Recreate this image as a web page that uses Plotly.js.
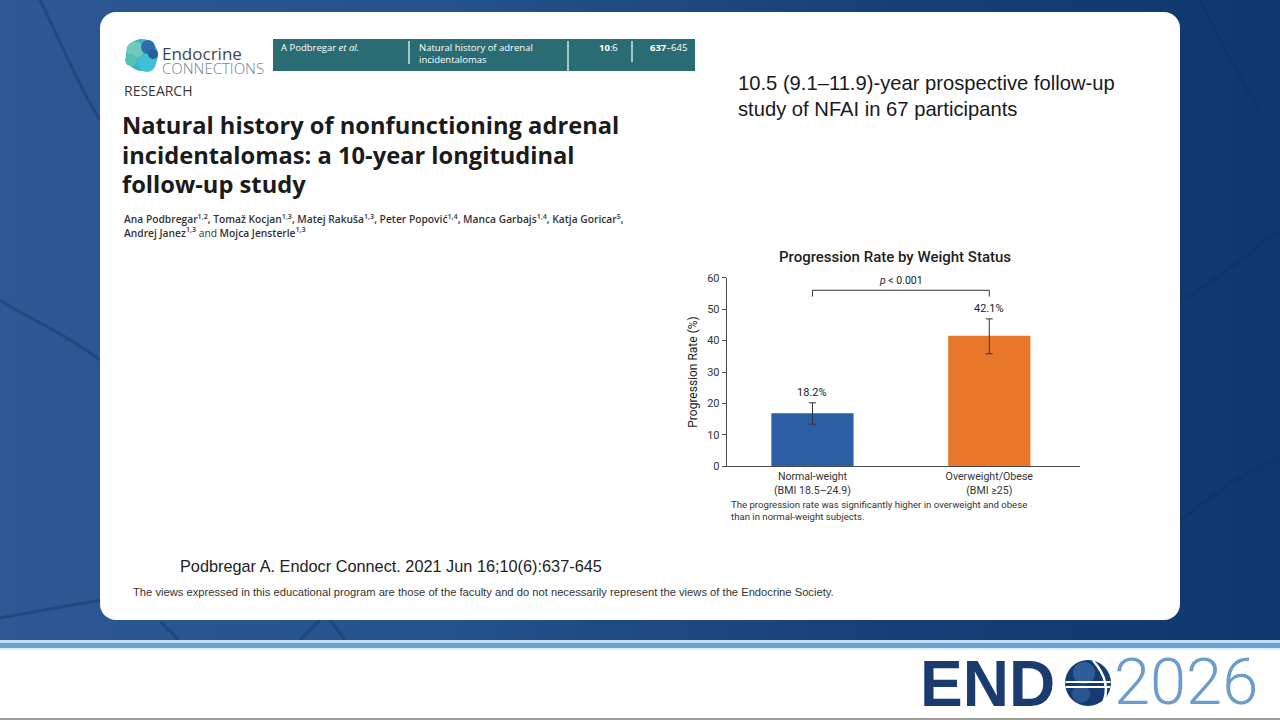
<!DOCTYPE html>
<html>
<head>
<meta charset="utf-8">
<script src="https://cdn.plot.ly/plotly-3.0.1.min.js"></script>
<style>
html,body{margin:0;padding:0;width:1280px;height:720px;overflow:hidden;}
body{position:relative;background:linear-gradient(90deg,#2c5893 0%,#24528c 35%,#173f77 70%,#0e386d 100%);}
.abs{position:absolute;left:0;width:1280px;}
#card{position:absolute;left:100px;top:12px;width:1080px;height:608px;background:#fff;border-radius:16px;}
#tex{position:absolute;left:0;top:0;width:1280px;height:720px;}
#chart{position:absolute;left:0;top:0;width:1280px;height:720px;}
</style>
</head>
<body>
<svg id="tex" width="1280" height="720">
  <g fill="none" stroke="#0f2f5e" stroke-opacity="0.35" stroke-width="3">
    <path d="M0,618 C40,610 70,606 100,600"/>
    <path d="M0,300 C30,320 60,330 100,360"/>
    <path d="M40,0 C60,40 80,90 100,120"/>
    <path d="M160,622 C170,630 175,636 178,640"/>
    <path d="M300,640 L320,620 M330,620 L345,640"/>
    <path d="M1180,300 C1220,280 1250,250 1280,230"/>
    <path d="M1180,520 C1210,500 1240,470 1280,460"/>
    <path d="M1200,0 C1220,40 1240,80 1260,110"/>
  </g>
</svg>
<div id="card"></div>
<div class="abs" style="top:640px;height:80px;background:#fff;"></div>
<div class="abs" style="top:640px;height:3px;background:#bfe1f3;"></div>
<div class="abs" style="top:643px;height:5px;background:#6e9fcf;"></div>
<div class="abs" style="top:648px;height:2px;background:#dcefF9;"></div>
<div class="abs" style="top:718px;height:2px;background:#9c9c9c;"></div>
<div id="chart"></div>
<script>
// ---------- chart data ----------
const categories = ['Normal-weight<br>(BMI 18.5–24.9)', 'Overweight/Obese<br>(BMI ≥25)'];
const progressionRate = [16.9, 41.5];
const errLower = [13.4, 35.8];
const errUpper = [20.2, 46.9];
const valueLabels = ['18.2%', '42.1%'];
const barColors = ['#2b5ea5', '#e8772a'];
const yTickVals = [0, 10, 20, 30, 40, 50, 60];
const pValueText = '<i>p</i> &lt; 0.001';
const bracketTop = 56;
const bracketFoot = 54;

// ---------- helpers ----------
const W = 1280, H = 720;
const px = x => x / W;
const py = y => 1 - y / H;
const ann = [];
function T(text, x, y, size, family, color, weight, xanchor) {
  ann.push({xref:'paper', yref:'paper', x:px(x), y:py(y), text:text, showarrow:false,
    xanchor:xanchor || 'left', yanchor:'middle', align:'left',
    font:{family:family, size:size, color:color, weight:weight || 400}});
}
const shapes = [];
function R(x0, y0, x1, y1, fill) {
  shapes.push({type:'rect', xref:'paper', yref:'paper', x0:px(x0), x1:px(x1), y0:py(y1), y1:py(y0),
    fillcolor:fill, line:{width:0}, layer:'below'});
}
function C(cx, cy, r, fill) {
  shapes.push({type:'circle', xref:'paper', yref:'paper', x0:px(cx - r), x1:px(cx + r), y0:py(cy + r), y1:py(cy - r),
    fillcolor:fill, line:{width:0}, layer:'below'});
}
function L(x0, y0, x1, y1, color, w) {
  shapes.push({type:'line', xref:'paper', yref:'paper', x0:px(x0), x1:px(x1), y0:py(y0), y1:py(y1),
    line:{color:color, width:w}, layer:'above'});
}
function Pth(pts, fill, lineColor, lw, closed) {
  let d = pts.map((p, i) => (typeof p === 'string' ? p : ((i === 0 ? 'M' : 'L') + px(p[0]) + ',' + py(p[1])))).join(' ');
  if (closed) d += ' Z';
  shapes.push({type:'path', xref:'paper', yref:'paper', path:d, fillcolor:fill || 'rgba(0,0,0,0)',
    line:{color:lineColor || 'rgba(0,0,0,0)', width:lw || 0}, layer:'above'});
}

// ---------- journal page header ----------
C(142, 55, 16, '#3db3cc');
C(135, 50, 8.5, '#6fcabd');
C(148, 47, 7, '#2e6cae');
C(147, 63, 9, '#3ec0d8');
C(131, 60, 6, '#58c0b2');
C(153, 54, 5, '#25609e');
T('<span style="font-size:17px">Endocrine</span><br><span style="font-size:15px;font-weight:300;fill:#6d7f8e">CONNECTIONS</span>',
  160, 60, 10.5, 'Open Sans', '#3c4955');
R(273, 39, 695, 71, '#2a6c73');
L(409, 41, 409, 64, '#ffffff', 1.2);
L(568, 41, 568, 71, '#ffffff', 1.2);
L(632, 41, 632, 62, '#ffffff', 1.2);
T('A Podbregar <i>et al.</i>', 279, 48, 9.5, 'Open Sans', '#ffffff');
T('Natural history of adrenal<br>incidentalomas', 417, 54, 9.5, 'Open Sans', '#ffffff');
T('<b>10</b>:6', 597, 48, 9.5, 'Open Sans', '#ffffff');
T('<b>637</b>–645', 648, 48, 9.5, 'Open Sans', '#ffffff');
T('RESEARCH', 122, 90, 14, 'Open Sans', '#3a3a3a');
T('Natural history of nonfunctioning adrenal', 120, 125, 23.7, 'Open Sans', '#1b1b1b', 700);
T('incidentalomas: a 10-year longitudinal', 120, 155, 23.7, 'Open Sans', '#1b1b1b', 700);
T('follow-up study', 120, 184, 23.7, 'Open Sans', '#1b1b1b', 700);
T('Ana Podbregar<sup>1,2</sup>, Tomaž Kocjan<sup>1,3</sup>, Matej Rakuša<sup>1,3</sup>, Peter Popović<sup>1,4</sup>, Manca Garbajs<sup>1,4</sup>, Katja Goricar<sup>5</sup>,<br>' +
  'Andrej Janez<sup>1,3</sup> <span style="font-weight:400">and</span> Mojca Jensterle<sup>1,3</sup>',
  122, 225.5, 10.25, 'Open Sans', '#333333', 600);

// ---------- slide texts ----------
T('10.5 (9.1–11.9)-year prospective follow-up<br>study of NFAI in 67 participants', 736, 96.5, 20.2, 'Liberation Sans', '#1a1a1a');
T('Podbregar A. Endocr Connect. 2021 Jun 16;10(6):637-645', 178, 566, 16.3, 'Liberation Sans', '#222222');
T('The views expressed in this educational program are those of the faculty and do not necessarily represent the views of the Endocrine Society.',
  131, 592, 11.2, 'Liberation Sans', '#333333');
T('The progression rate was significantly higher in overweight and obese<br>than in normal-weight subjects.', 729, 510.5, 9.6, 'Roboto', '#333333');

// ---------- ENDO 2026 logo ----------
T('END', 918, 684, 64, 'Liberation Sans', '#1b3b6f', 700);
C(1088, 683, 23, '#163a72');
C(1084, 673, 11, '#2f5d9a');
C(1081, 694, 9, '#2a5690');
L(1065.5, 682, 1110.5, 682, '#ffffff', 2);
L(1065.5, 687, 1110.5, 687, '#ffffff', 2);
Pth([[1093, 660.5], 'Q' + px(1113) + ',' + py(683) + ' ' + px(1102) + ',' + py(705.5)], null, '#ffffff', 2.5, false);
T('2026', 1112, 682, 65, 'Roboto', '#6b9ccb', 300);

// ---------- chart annotations ----------
categories.forEach((c, i) => {
  ann.push({xref:'x', yref:'y', x:c, y:errUpper[i], yanchor:'bottom', yshift:2, showarrow:false,
    text:valueLabels[i], font:{family:'Roboto', size:11, color:'#222'}});
});
ann.push({xref:'x', yref:'y', x:0.5, y:bracketTop, yanchor:'bottom', yshift:1, showarrow:false,
  text:pValueText, font:{family:'Roboto', size:10.5, color:'#222'}});
const bl = {color:'#333', width:1};
shapes.push({type:'line', xref:'x', yref:'y', x0:categories[0], x1:categories[0], y0:bracketFoot, y1:bracketTop, line:bl});
shapes.push({type:'line', xref:'x', yref:'y', x0:categories[0], x1:categories[1], y0:bracketTop, y1:bracketTop, line:bl});
shapes.push({type:'line', xref:'x', yref:'y', x0:categories[1], x1:categories[1], y0:bracketFoot, y1:bracketTop, line:bl});

const trace = {
  type:'bar', x:categories, y:progressionRate, width:0.465,
  marker:{color:barColors, line:{width:0}},
  error_y:{type:'data', symmetric:false,
    array:progressionRate.map((v, i) => errUpper[i] - v),
    arrayminus:progressionRate.map((v, i) => v - errLower[i]),
    color:'#333', thickness:1, width:3.5},
  hoverinfo:'skip'
};

const axisFont = {family:'Roboto', size:11, color:'#333'};
const layout = {
  width:W, height:H, margin:{l:0, r:0, t:0, b:0},
  paper_bgcolor:'rgba(0,0,0,0)', plot_bgcolor:'rgba(0,0,0,0)',
  showlegend:false,
  title:{text:'Progression Rate by Weight Status', xref:'paper', yref:'paper', x:px(895), xanchor:'center',
    y:py(257), yanchor:'middle', font:{family:'Roboto', size:15, color:'#222', weight:500}},
  xaxis:{domain:[px(726.7), px(1080)], range:[-0.485, 1.513], type:'category', fixedrange:true,
    showline:true, linecolor:'#4a4a4a', linewidth:1, ticks:'', showgrid:false, zeroline:false,
    tickfont:{family:'Roboto', size:10.6, color:'#333'}},
  yaxis:{domain:[py(466.3), py(277.7)], range:[0, 60], tickvals:yTickVals, fixedrange:true,
    showline:true, linecolor:'#4a4a4a', linewidth:1, ticks:'outside', ticklen:4, tickcolor:'#4a4a4a',
    showgrid:false, zeroline:false, tickfont:axisFont,
    title:{text:'Progression Rate (%)', font:{family:'Roboto', size:12, color:'#222'}, standoff:6}},
  shapes:shapes, annotations:ann
};
Plotly.newPlot('chart', [trace], layout, {staticPlot:true, displayModeBar:false});
</script>
</body>
</html>
